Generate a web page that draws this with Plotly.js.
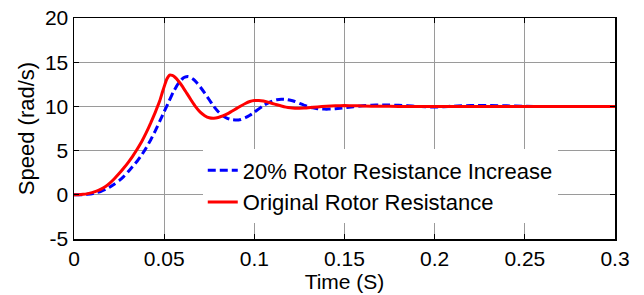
<!DOCTYPE html>
<html>
<head>
<meta charset="utf-8">
<script src="https://cdn.plot.ly/plotly-3.0.1.min.js"></script>
<style>html,body{margin:0;padding:0;background:#fff;}#chart{width:644px;height:295px;}</style>
</head>
<body>
<div id="chart"></div>
<script>
// Original Rotor Resistance (red, solid)
const tOrig = [0, 0.0025, 0.005, 0.0075, 0.01, 0.0125, 0.015, 0.0175, 0.02, 0.0225, 0.025, 0.0275, 0.03, 0.0325, 0.035, 0.0375, 0.04, 0.0425, 0.045, 0.0475, 0.049, 0.0505, 0.0515, 0.053, 0.0545, 0.056, 0.058, 0.06, 0.0625, 0.065, 0.0675, 0.07, 0.0725, 0.075, 0.0775, 0.08, 0.0825, 0.085, 0.0875, 0.09, 0.0925, 0.095, 0.0975, 0.1, 0.1025, 0.105, 0.1075, 0.11, 0.1125, 0.115, 0.1175, 0.12, 0.1225, 0.125, 0.1275, 0.13, 0.135, 0.14, 0.145, 0.15, 0.155, 0.16, 0.17, 0.18, 0.2, 0.25, 0.3];
const vOrig = [0, 0.01, 0.05, 0.13, 0.25, 0.42, 0.65, 0.95, 1.35, 1.85, 2.4, 3.0, 3.65, 4.35, 5.15, 6.0, 7.0, 8.1, 9.3, 10.6, 11.6, 12.55, 13.1, 13.55, 13.5, 13.3, 12.85, 12.3, 11.5, 10.7, 9.95, 9.35, 8.95, 8.72, 8.67, 8.75, 8.92, 9.15, 9.45, 9.75, 10.05, 10.33, 10.55, 10.66, 10.67, 10.6, 10.48, 10.33, 10.18, 10.04, 9.92, 9.84, 9.8, 9.79, 9.81, 9.85, 9.94, 10.02, 10.07, 10.09, 10.08, 10.05, 10.01, 10.0, 10.0, 10.0, 10.0];

// 20% Rotor Resistance Increase (blue, dashed)
const tInc = [0, 0.0025, 0.005, 0.0075, 0.01, 0.0125, 0.015, 0.0175, 0.02, 0.0225, 0.025, 0.0275, 0.03, 0.0325, 0.035, 0.0375, 0.04, 0.0425, 0.045, 0.0475, 0.05, 0.0525, 0.055, 0.0575, 0.06, 0.0615, 0.063, 0.0645, 0.066, 0.068, 0.07, 0.0725, 0.075, 0.0775, 0.08, 0.0825, 0.085, 0.0875, 0.09, 0.0925, 0.095, 0.0975, 0.1, 0.1025, 0.105, 0.1075, 0.11, 0.1125, 0.115, 0.1175, 0.12, 0.1225, 0.125, 0.1275, 0.13, 0.1325, 0.135, 0.1375, 0.14, 0.1425, 0.145, 0.15, 0.155, 0.16, 0.165, 0.17, 0.175, 0.18, 0.185, 0.19, 0.195, 0.2, 0.205, 0.21, 0.215, 0.22, 0.23, 0.24, 0.25, 0.26, 0.27, 0.3];
const vInc = [0, 0.005, 0.02, 0.06, 0.12, 0.24, 0.4, 0.62, 0.9, 1.22, 1.6, 2.05, 2.6, 3.2, 3.8, 4.5, 5.3, 6.2, 7.2, 8.3, 9.4, 10.5, 11.6, 12.5, 13.1, 13.3, 13.37, 13.3, 13.1, 12.7, 12.2, 11.5, 10.75, 10.0, 9.4, 8.95, 8.65, 8.5, 8.45, 8.52, 8.72, 9.0, 9.35, 9.72, 10.08, 10.38, 10.6, 10.75, 10.82, 10.8, 10.7, 10.55, 10.35, 10.15, 9.97, 9.83, 9.74, 9.7, 9.69, 9.7, 9.74, 9.84, 9.97, 10.08, 10.14, 10.16, 10.15, 10.13, 10.08, 10.01, 9.95, 9.93, 9.96, 10.02, 10.07, 10.1, 10.11, 10.06, 10.01, 9.99, 10.0, 10.0];

const yTickVals = [-5, 0, 5, 10, 15, 20];
const yTickText = ['-5', '0', '5', '10', '15', '20'];
const xTickVals = [0, 0.05, 0.1, 0.15, 0.2, 0.25, 0.3];
const xTickText = ['0', '0.05', '0.1', '0.15', '0.2', '0.25', '0.3'];

const FONT = 'Liberation Sans, Arial, sans-serif';

const traces = [
  {x: tInc, y: vInc, mode: 'lines', name: '20% Rotor Resistance Increase', legendgroup: 'a',
   line: {color: '#0000ff', width: 3, dash: '8px,4px', shape: 'spline', smoothing: 0.4}},
  {x: tOrig, y: vOrig, mode: 'lines', name: 'Original Rotor Resistance', legendgroup: 'b',
   line: {color: '#ff0000', width: 3, shape: 'spline', smoothing: 0.4}}
];

const axisCommon = {
  showline: true, linecolor: '#000', linewidth: 1.5, mirror: 'ticks',
  ticks: 'inside', ticklen: 5, tickcolor: '#000', tickwidth: 1,
  showgrid: true, gridcolor: '#9a9a9a', gridwidth: 1, zeroline: false,
  tickfont: {family: FONT, size: 21, color: '#000'}
};

const layout = {
  width: 644, height: 295,
  margin: {l: 74, r: 29, t: 18, b: 56},
  paper_bgcolor: '#fff', plot_bgcolor: '#fff',
  showlegend: true,
  xaxis: Object.assign({}, axisCommon, {
    range: [0, 0.3], tickmode: 'array', tickvals: xTickVals, ticktext: xTickText,
    title: {text: 'Time (S)', font: {family: FONT, size: 21, color: '#000'}, standoff: 0}
  }),
  yaxis: Object.assign({}, axisCommon, {
    range: [-5, 20], tickmode: 'array', tickvals: yTickVals, ticktext: yTickText,
    title: {text: 'Speed (rad/s)', font: {family: FONT, size: 22, color: '#000'}, standoff: 4}
  }),
  legend: {
    x: 0.238, y: 0.405, xanchor: 'left', yanchor: 'top',
    bgcolor: '#ffffff', borderwidth: 0,
    traceorder: 'grouped', tracegroupgap: 0,
    font: {family: FONT, size: 22, color: '#000'}
  }
};

Plotly.newPlot('chart', traces, layout, {displayModeBar: false, staticPlot: true});
</script>
</body>
</html>
